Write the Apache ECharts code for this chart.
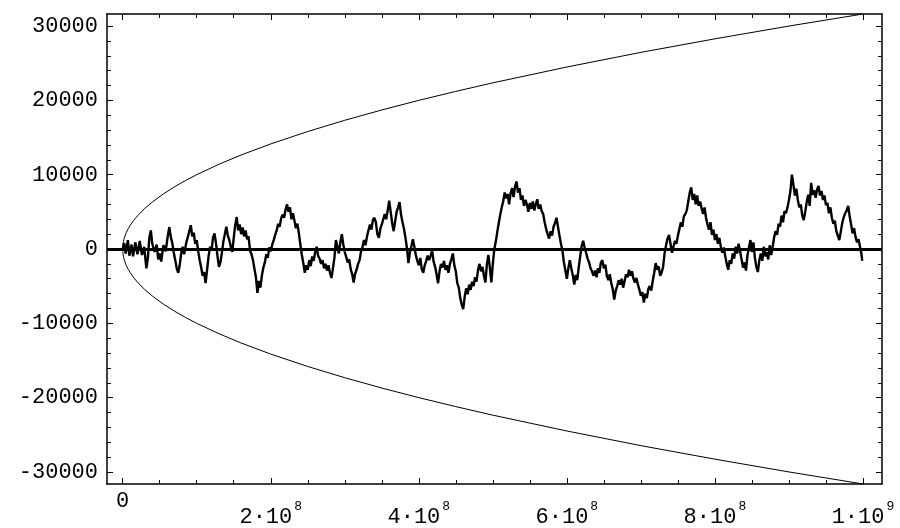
<!DOCTYPE html>
<html><head><meta charset="utf-8">
<script src="https://cdn.jsdelivr.net/npm/echarts@6/dist/echarts.min.js"></script>
<style>html,body{margin:0;padding:0;background:#fff}#c{width:900px;height:528px}</style>
</head><body><div id="c"></div>
<script>
// x in units of 1e6
const xMajorTicks = [0, 200, 400, 600, 800, 1000];
const xMinorTicks = [50,100,150,250,300,350,450,500,550,650,700,750,850,900,950];
const yMajorTicks = [-30000,-20000,-10000,0,10000,20000,30000];
const yMinorTicks = [-28000,-26000,-24000,-22000,-18000,-16000,-14000,-12000,-8000,-6000,-4000,-2000,
                     2000,4000,6000,8000,12000,14000,16000,18000,22000,24000,26000,28000];
const xLabelText = {0:'0', 200:'2·10^8', 400:'4·10^8', 600:'6·10^8', 800:'8·10^8', 1000:'1·10^9'};

// envelope
const envX     = [0, 0.1, 0.4, 1, 2, 3.5, 5, 7.5, 10, 15, 20, 30, 40, 55, 70, 85, 100, 130, 160, 200, 250, 300, 350, 400, 450, 500, 600, 700, 800, 900, 1000];
const envUpper = [0, 316, 632, 1000, 1414, 1870, 2240, 2740, 3160, 3870, 4470, 5480, 6320, 7420, 8370, 9220, 10000, 11400, 12650, 14140, 15810, 17320, 18710, 20000, 21210, 22360, 24490, 26460, 28280, 30000, 31620];
const envLower = [0, -316, -632, -1000, -1414, -1870, -2240, -2740, -3160, -3870, -4470, -5480, -6320, -7420, -8370, -9220, -10000, -11400, -12650, -14140, -15810, -17320, -18710, -20000, -21210, -22360, -24490, -26460, -28280, -30000, -31620];

// random walk [x (1e6), value]
const walk = [
[0,0],[2,800],[4,-600],[7,1200],[9,-900],[12,600],[14,-1000],[17,900],[20,-700],[23,1100],[26,-800],[29,300],[32,-2600],[34,-1200],[36,1500],[38,2500],[40,700],[43,-400],[46,600],[48,-1400],[50,-600],[52,-1700],[55,500],[58,-300],[61,1800],[63,2950],[65,1600],[67,800],[69,-500],[71,-1500],[73,-2600],[75,-3200],[77,-2200],[79,-600],[81,300],[83,-700],[86,900],[89,2000],[92,3200],[94,1700],[96,2200],[98,700],[100,1200],[102,-300],[104,-1500],[106,-2500],[108,-3600],[110,-3100],[112,-4600],[114,-2800],[116,-1000],[118,300],[120,-200],[122,1500],[124,2100],[126,800],[128,-900],[130,-2400],[132,-1800],[134,-500],[136,1000],[138,2000],[140,3000],[142,1800],[144,1200],[146,300],[148,-400],[150,1500],[152,3200],[154,4300],[156,2500],[158,3300],
[160,2000],[162,2900],[164,1700],[166,2500],[168,1300],[170,1700],[172,-200],[174,-700],[176,-1500],[178,-2700],[180,-3800],[182,-5900],[184,-4300],[186,-5200],[188,-3600],[190,-2500],[192,-1800],[194,-700],[196,-1200],[198,200],[200,-300],[202,600],[204,1200],[206,1900],[208,2500],[210,3400],[212,3000],[214,4100],[216,4600],[218,4200],[220,5300],[222,6000],[224,5000],[226,5600],[228,4000],[230,4800],[232,3800],[234,2800],[236,3400],[238,2100],[240,600],[242,-800],[244,-1900],[246,-3200],[248,-2200],[250,-2800],[252,-1500],[254,-2300],[256,-1000],[258,-1600],[260,-400],[262,300],[264,-900],[266,-1300],[268,-2000],[270,-1500],[272,-2600],[274,-2000],[276,-2900],[278,-2200],[280,-3200],[282,-3900],[284,-2600],[286,-1200],[288,1200],[290,300],[292,-600],[294,900],[296,2000],[298,600],[300,-400],[302,-1100],[304,-1800],[306,-1400],[308,-2700],[310,-3400],[312,-4500],[314,-3300],[316,-2800],[318,-2000],[320,-1500],[322,-300],[324,300],[326,1200],[328,500],[330,1700],[332,2500],[334,3300],[336,2600],[338,3900],[340,4200],
[342,3600],[344,2000],[346,1500],[348,2700],[350,3300],[352,4000],[354,4700],[356,4000],[358,5200],[360,6500],[362,5000],[364,3500],[366,2400],[368,3700],[370,5000],[372,5600],[374,6300],[376,4600],[378,3600],[380,2700],[382,1500],[384,100],[386,-1900],[388,-400],[390,400],[392,1300],[394,300],[396,-800],[398,-1600],[400,-2200],[402,-1200],[404,-2700],[406,-3200],[408,-2200],[410,-1600],[412,-900],[414,-1500],[416,-900],[418,-200],[420,-1700],[422,-2400],[424,-3400],[426,-4600],[428,-3000],[430,-2000],[432,-2500],[434,-1600],[436,-2800],[438,-2200],[440,-3200],[442,-2000],[444,-1400],[446,-600],[448,-2200],[450,-3000],[452,-4600],[454,-5200],[456,-6600],[458,-7500],[460,-8100],[462,-6400],[464,-5300],[466,-6100],[468,-4800],[470,-5500],[472,-4400],[474,-5000],[476,-3800],[478,-4400],[480,-2800],[482,-2000],[484,-3000],[486,-2400],[488,-3600],[490,-4500],[492,-2000],[494,-800],[496,-2500],[498,-4500],[500,-2000],[502,0],[504,1000],[506,2300],[508,3500],[510,4600],[512,5600],[514,6400],[516,7600],[518,6800],[520,7400],
[522,6000],[524,7500],[526,8200],[528,7000],[530,8400],[532,9100],[534,7600],[536,8200],[538,6600],[540,7200],[542,5800],[544,6600],[546,6000],[548,5000],[550,6200],[552,5400],[554,6400],[556,5200],[558,6000],[560,6700],[562,5400],[564,6000],[566,5100],[568,4700],[570,3600],[572,2700],[574,2000],[576,1400],[578,2400],[580,1800],[582,3000],[584,3500],[586,4200],[588,3000],[590,1800],[592,700],[594,-200],[596,-1800],[598,-2900],[600,-4000],[602,-2600],[604,-1500],[606,-2600],[608,-3500],[610,-4800],[612,-3500],[614,-4200],[616,-2500],[618,-1000],[620,400],[622,1100],[624,200],[626,-500],[628,-1300],[630,-1800],[632,-2600],[634,-3000],[636,-3600],[638,-2900],[640,-3800],[642,-2600],[644,-3200],[646,-1800],[648,-1500],[650,-2600],[652,-2100],[654,-3600],[656,-4200],[658,-3400],[660,-4600],[662,-5400],[664,-6800],[666,-5600],[668,-5000],[670,-4200],[672,-4800],[674,-4000],[676,-5200],[678,-4300],[680,-3400],[682,-3800],[684,-2800],[686,-3600],[688,-3000],[690,-4000],[692,-4500],[694,-3900],[696,-4800],[698,-5500],[700,-6300],
[702,-5800],[704,-7200],[706,-6000],[708,-6600],[710,-5400],[712,-5000],[714,-5600],[716,-4300],[718,-3200],[720,-1900],[722,-2800],[724,-2300],[726,-3600],[728,-3200],[730,-2400],[732,-600],[734,500],[736,1400],[738,1900],[740,700],[742,-500],[744,300],[746,1100],[748,700],[750,1800],[752,2700],[754,3600],[756,3000],[758,4400],[760,4700],[762,5200],[764,6400],[766,7600],[768,8300],[770,6600],[772,7400],[774,6000],[776,7200],[778,5800],[780,6400],[782,5500],[784,4700],[786,5600],[788,4200],[790,3300],[792,2600],[794,3600],[796,1900],[798,2600],[800,1200],[802,2000],[804,700],[806,1500],[808,300],[810,-500],[812,200],[814,-1000],[816,-2000],[818,-2800],[820,-1500],[822,-2000],[824,-600],[826,-1300],[828,300],[830,-600],[832,700],[834,-300],[836,-1400],[838,-2500],[840,-1800],[842,-2900],[844,-800],[846,200],[848,1200],[850,-400],[852,900],[854,-1200],[856,-2400],[858,-3100],[860,-1500],[862,-600],[864,-1600],[866,300],[868,-1000],[870,-400],[872,-1400],[874,500],[876,-800],[878,300],
[880,1600],[882,2400],[884,1900],[886,3400],[888,3000],[890,4500],[892,3600],[894,5100],[896,4800],[898,5600],[900,6600],[902,7800],[904,10000],[906,8700],[908,7200],[910,8100],[912,6600],[914,5600],[916,6000],[918,4500],[920,3900],[922,5000],[924,6300],[926,7300],[928,5800],[930,8900],[932,7300],[934,7900],[936,6900],[938,8000],[940,8500],[942,7200],[944,7800],[946,6600],[948,7200],[950,5900],[952,6200],[954,4800],[956,5600],[958,4200],[960,3400],[962,3800],[964,2400],[966,1800],[968,1200],[970,2300],[972,3500],[974,4300],[976,4800],[978,5200],[980,5800],[982,4400],[984,3300],[986,2100],[988,2800],[990,1600],[992,900],[994,1300],[996,300],[998,-700],[999,-1600]
];

const FONT = 'Liberation Mono';
const X_MIN = -21.2, X_MAX = 1025.7, Y_MIN = -31623, Y_MAX = 31623;
const BLACK = '#000';

function xAxisDef(position, ticks, len, showLine, showLabel) {
  return {
    type: 'value', position: position, min: X_MIN, max: X_MAX,
    axisLine: { show: showLine, onZero: false, lineStyle: { color: BLACK, width: 1.5 } },
    axisTick: { show: true, inside: true, length: len, customValues: ticks, lineStyle: { color: BLACK, width: 1 } },
    axisLabel: showLabel ? {
      show: true, customValues: ticks, margin: 6, color: BLACK,
      formatter: function (v) {
        const t = xLabelText[Math.round(v)];
        if (!t) return '';
        if (t === '0') return '{z|0}';
        const p = t.split('^');
        return '{b|' + p[0] + '}{s|' + p[1] + '}';
      },
      rich: {
        z: { fontFamily: FONT, fontSize: 22, lineHeight: 22, color: BLACK },
        b: { fontFamily: FONT, fontSize: 22, lineHeight: 38, verticalAlign: 'bottom', color: BLACK },
        s: { fontFamily: FONT, fontSize: 13, lineHeight: 13, verticalAlign: 'top', padding: [10, 0, 0, 2], color: BLACK }
      }
    } : { show: false },
    splitLine: { show: false }
  };
}
function yAxisDef(position, ticks, len, showLine, showLabel) {
  return {
    type: 'value', position: position, min: Y_MIN, max: Y_MAX,
    axisLine: { show: showLine, onZero: false, lineStyle: { color: BLACK, width: 1.5 } },
    axisTick: { show: true, inside: true, length: len, customValues: ticks, lineStyle: { color: BLACK, width: 1 } },
    axisLabel: showLabel ? {
      show: true, customValues: ticks, margin: 9, color: BLACK,
      fontFamily: FONT, fontSize: 22,
      formatter: function (v) { return v < 0 ? '-' + Math.abs(v) : String(v); }
    } : { show: false },
    splitLine: { show: false }
  };
}

const chart = echarts.init(document.getElementById('c'), null, { renderer: 'canvas' });
chart.setOption({
  animation: false,
  backgroundColor: '#fff',
  grid: { left: 107, right: 18, top: 14, bottom: 38, containLabel: false },
  xAxis: [
    xAxisDef('bottom', xMajorTicks, 6, true, true),
    xAxisDef('bottom', xMinorTicks, 4, false, false),
    xAxisDef('top', xMajorTicks, 6, true, false),
    xAxisDef('top', xMinorTicks, 4, false, false)
  ],
  yAxis: [
    yAxisDef('left', yMajorTicks, 6, true, true),
    yAxisDef('left', yMinorTicks, 4, false, false),
    yAxisDef('right', yMajorTicks, 6, true, false),
    yAxisDef('right', yMinorTicks, 4, false, false)
  ],
  series: [
    { type: 'line', xAxisIndex: 0, yAxisIndex: 0, symbol: 'none', silent: true,
      data: envX.map((x, i) => [x, envUpper[i]]), lineStyle: { color: BLACK, width: 1 } },
    { type: 'line', xAxisIndex: 0, yAxisIndex: 0, symbol: 'none', silent: true,
      data: envX.map((x, i) => [x, envLower[i]]), lineStyle: { color: BLACK, width: 1 } },
    { type: 'line', xAxisIndex: 0, yAxisIndex: 0, symbol: 'none', silent: true,
      data: walk, lineStyle: { color: BLACK, width: 2.4 },
      markLine: { silent: true, symbol: ['none', 'none'], label: { show: false },
        lineStyle: { color: BLACK, width: 3, type: 'solid' }, data: [{ yAxis: 0 }] } }
  ]
});
</script>
</body></html>
